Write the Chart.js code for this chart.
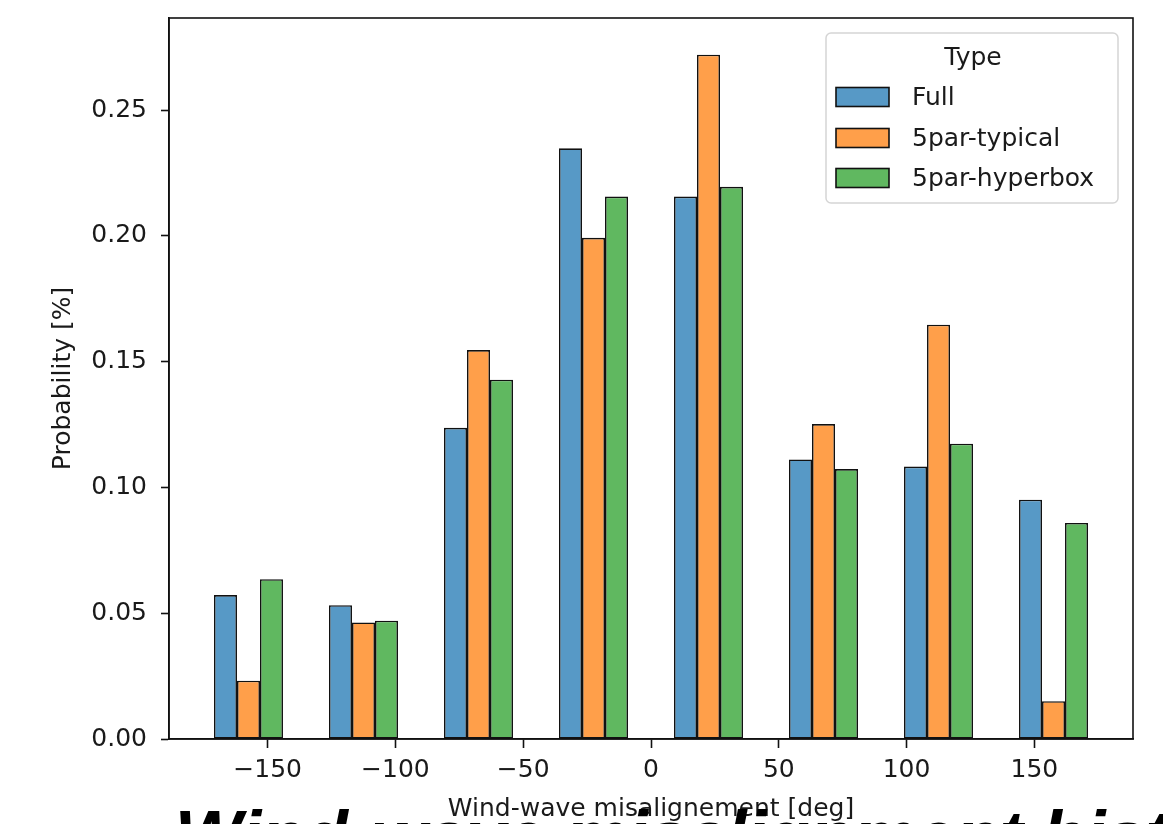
<!DOCTYPE html>
<html>
<head>
<meta charset="utf-8">
<script src="https://cdn.jsdelivr.net/npm/chart.js@4.4.1/dist/chart.umd.min.js"></script>
<style>
html, body { margin: 0; padding: 0; background: #fff; overflow: hidden; }
#wrap { position: relative; width: 1163px; height: 824px; }
#overlay { position: absolute; left: 175px; top: 800px; font: bold italic 71px "Liberation Sans"; line-height: 1; white-space: nowrap; color: #000; }
</style>
</head>
<body>
<div id="wrap">
  <canvas id="hist" width="1163" height="824"></canvas>
  <div id="overlay">Wind-wave misalignment histogram</div>
</div>
<script>
// bin centres (45 deg bins from -180 to 180)
var binCenters = [-157.5, -112.5, -67.5, -22.5, 22.5, 67.5, 112.5, 157.5];
var fullProb     = [0.0572, 0.0532, 0.1237, 0.2348, 0.2156, 0.1111, 0.1083, 0.0951];
var typicalProb  = [0.0232, 0.0463, 0.1546, 0.1992, 0.2720, 0.1252, 0.1647, 0.0150];
var hyperboxProb = [0.0635, 0.0470, 0.1428, 0.2156, 0.2195, 0.1073, 0.1174, 0.0859];
var typeNames = ["Full", "5par-typical", "5par-hyperbox"];
var typeColors = ["#5799c6", "#ff9f4a", "#60b860"];
var xTicks = [-150, -100, -50, 0, 50, 100, 150];
var yTicks = [0, 0.05, 0.10, 0.15, 0.20, 0.25];

var FONT = "DejaVu Sans";
var TXT = "#1a1a1a";

function pts(vals){
    return binCenters.map(function(c, i){ return {x: c, y: vals[i]}; });
}

var series = [fullProb, typicalProb, hyperboxProb];
var datasets = series.map(function(s, i){
    return {
        label: typeNames[i],
        data: pts(s),
        backgroundColor: typeColors[i],
        borderColor: "#111",
        borderWidth: 1.6,
        borderSkipped: false,
        categoryPercentage: 0.6,
        barPercentage: 1.0
    };
});

// frame + legend box like matplotlib
var framePlugin = {
    id: "frame",
    afterDraw: function(chart){
        var c = chart.ctx, a = chart.chartArea;
        c.save();
        c.strokeStyle = "#111";
        c.lineWidth = 1.6;
        c.strokeRect(a.left, a.top, a.right - a.left, a.bottom - a.top);

        // legend
        var bx = 826, by = 33, bw = 292, bh = 170, r = 5;
        c.beginPath();
        c.moveTo(bx + r, by);
        c.arcTo(bx + bw, by, bx + bw, by + bh, r);
        c.arcTo(bx + bw, by + bh, bx, by + bh, r);
        c.arcTo(bx, by + bh, bx, by, r);
        c.arcTo(bx, by, bx + bw, by, r);
        c.closePath();
        c.fillStyle = "rgba(255,255,255,0.85)";
        c.fill();
        c.strokeStyle = "#d5d5d5";
        c.lineWidth = 1.5;
        c.stroke();

        c.font = "25px '" + FONT + "'";
        c.fillStyle = TXT;
        c.textBaseline = "middle";
        c.textAlign = "center";
        c.fillText("Type", 973, 58);
        c.textAlign = "left";
        var rows = [97, 138, 178];
        typeNames.forEach(function(n, i){
            c.fillStyle = typeColors[i];
            c.fillRect(836, rows[i] - 9.5, 53, 19);
            c.strokeStyle = "#111";
            c.lineWidth = 1.6;
            c.strokeRect(836, rows[i] - 9.5, 53, 19);
            c.fillStyle = TXT;
            c.fillText(n, 912, rows[i] + 1);
        });
        c.restore();
    }
};

var ctx = document.getElementById("hist");
var hist = new Chart(ctx, {
    type: "bar",
    data: { datasets: datasets },
    options: {
        responsive: false,
        animation: false,
        layout: { padding: { top: 18, right: 30, left: 0, bottom: 0 } },
        plugins: { legend: { display: false }, tooltip: { enabled: false } },
        scales: {
            x: {
                type: "linear",
                min: -188.6,
                max: 188.6,
                offset: false,
                afterBuildTicks: function(s){ s.ticks = xTicks.map(function(v){ return {value: v}; }); },
                afterFit: function(s){ s.height = 85; s.paddingLeft = 0; s.paddingRight = 0; },
                grid: { drawOnChartArea: false, offset: false, tickLength: 9, tickColor: "#111", tickWidth: 1.6 },
                border: { color: "#111", width: 1.6 },
                ticks: {
                    color: TXT,
                    font: { family: FONT, size: 25 },
                    padding: 7,
                    maxRotation: 0,
                    autoSkip: false,
                    callback: function(v){ return v < 0 ? "\u2212" + Math.abs(v) : String(v); }
                },
                title: {
                    display: true,
                    text: "Wind-wave misalignement [deg]",
                    color: TXT,
                    font: { family: FONT, size: 25 },
                    padding: { top: 4, bottom: 0 }
                }
            },
            y: {
                min: 0,
                max: 0.2866,
                afterBuildTicks: function(s){ s.ticks = yTicks.map(function(v){ return {value: v}; }); },
                afterFit: function(s){ s.width = 169; s.paddingTop = 0; s.paddingBottom = 0; },
                grid: { drawOnChartArea: false, tickLength: 8, tickColor: "#111", tickWidth: 1.6 },
                border: { color: "#111", width: 1.6 },
                ticks: {
                    color: TXT,
                    font: { family: FONT, size: 25 },
                    padding: 14,
                    autoSkip: false,
                    callback: function(v){ return Number(v).toFixed(2); }
                },
                title: {
                    display: true,
                    text: "Probability [%]",
                    color: TXT,
                    font: { family: FONT, size: 25 },
                    padding: { top: 48, bottom: 0 }
                }
            }
        }
    },
    plugins: [framePlugin]
});
</script>
</body>
</html>
